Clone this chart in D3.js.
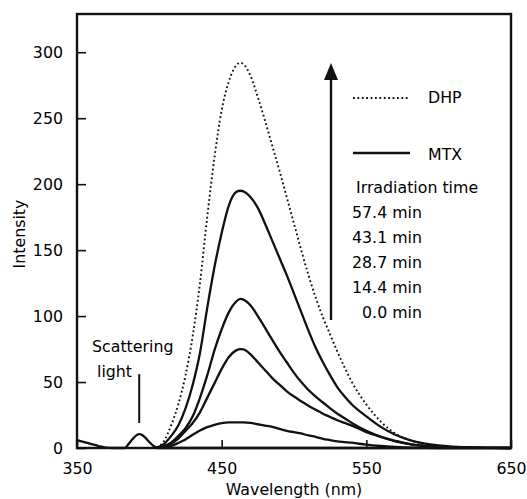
<!DOCTYPE html>
<html>
<head>
<meta charset="utf-8">
<script src="https://cdn.jsdelivr.net/npm/d3@7/dist/d3.min.js"></script>
<style>
body { margin: 0; background: #fff; }
svg text { font-family: "DejaVu Sans", sans-serif; font-size: 15.8px; fill: #000; }
</style>
</head>
<body>
<svg id="vis" width="527" height="499"></svg>
<script>
// wavelengths (nm) of the emission readings
var wl = [405, 410, 415, 420, 425, 430, 435, 440, 445, 450, 455, 460, 463, 465, 470, 475, 480, 485, 490, 495,
          500, 505, 510, 515, 520, 525, 530, 535, 540, 550, 560, 570, 580, 590, 600, 620, 650];

// DHP reference spectrum (dotted)
var dhp = [0.5, 5, 17, 33, 55, 85, 125, 175, 220, 256, 278, 290, 292, 291, 282, 266, 248, 229, 210, 190,
           170, 150, 131, 114, 99, 86, 73, 61, 50, 33, 20, 11, 6, 3, 1.5, 0.3, 0];

// MTX spectra after irradiation
var mtx574 = [0.3, 3, 9, 17, 30, 48, 72, 106, 137, 163, 184, 194, 195, 194.5, 190, 182, 170, 157, 144, 131,
              117, 103, 89, 76, 65, 55, 46, 39, 33, 24, 16, 10, 6, 3.5, 2, 0.5, 0];
var mtx431 = [0.2, 1.5, 4, 9, 15, 24, 38, 55, 74, 90, 103, 111, 113, 112.5, 108, 100, 91, 82, 73, 65,
              57, 50, 44, 39, 34.5, 30, 26, 22.5, 19, 13, 8.5, 5, 3, 1.5, 0.8, 0.2, 0];
var mtx287 = [0.2, 1, 3, 7, 13, 19, 27, 38, 49, 60, 69, 74, 75, 74.8, 71, 65, 59, 53, 48, 43,
              39, 35.5, 32, 29, 26, 23.5, 21, 19, 17, 12, 8.5, 5.5, 3, 1.8, 1, 0.2, 0];
var mtx144 = [0.1, 0.5, 1.5, 3.8, 6.5, 10, 13.2, 15.8, 17.6, 18.8, 19.4, 19.5, 19.5, 19.5, 19, 18, 17, 16, 14.5, 13,
              12, 11, 9.5, 8.5, 7, 6, 5, 4.5, 4, 2.5, 1.5, 0.8, 0.3, 0.1, 0, 0, 0];
var mtx000 = [0, 0, 0, 0, 0, 0, 0, 0, 0, 0, 0, 0, 0, 0, 0, 0, 0, 0, 0, 0,
              0, 0, 0, 0, 0, 0, 0, 0, 0, 0, 0, 0, 0, 0, 0, 0, 0];

// scattering light region shared by all runs
var scatterWl = [350, 355, 360, 365, 370, 375, 380, 383, 386, 389, 391, 393, 395, 397, 400, 403, 405];
var scatterI  = [6, 4.5, 3, 1.5, 0.3, 0, 0, 0, 3.5, 7.5, 9.6, 10.5, 9.8, 8, 4.5, 1.5, 0.3];

var times = ['57.4 min', '43.1 min', '28.7 min', '14.4 min', '0.0 min'];
var xTicks = [350, 450, 550, 650];
var yTicks = [0, 50, 100, 150, 200, 250, 300];

var svg = d3.select('#vis');
// plot box (window.top is reserved, so use own names)
var pL = 77, pR = 511, pT = 14, pB = 448;

var x = d3.scaleLinear().domain([350, 650]).range([pL, pR]);
var y = d3.scaleLinear().domain([0, 329]).range([pB, pT]);

var line = d3.line()
    .x(function(d) { return x(d[0]); })
    .y(function(d) { return y(d[1]); })
    .curve(d3.curveMonotoneX);

function pairs(xs, ys) {
    return xs.map(function(v, i) { return [v, ys[i]]; });
}

// axes, ticks pointing inward
svg.append('g')
    .attr('transform', 'translate(0,' + pB + ')')
    .call(d3.axisBottom(x).tickValues(xTicks).tickSize(-8).tickPadding(15))
    .call(function(g) { g.select('.domain').remove(); });

svg.append('g')
    .attr('transform', 'translate(' + pL + ',0)')
    .call(d3.axisLeft(y).tickValues(yTicks).tickSize(-9).tickPadding(14))
    .call(function(g) { g.select('.domain').remove(); });

svg.selectAll('.tick line').attr('stroke', '#111').attr('stroke-width', 1.6);
svg.selectAll('.tick text').attr('font-family', null).attr('font-size', null).attr('fill', null);

// curves
var mtx = [mtx574, mtx431, mtx287, mtx144, mtx000];
svg.selectAll('path.mtx')
    .data(mtx)
    .enter().append('path')
    .attr('class', 'mtx')
    .attr('d', function(d) { return line(pairs(wl, d)); })
    .attr('fill', 'none')
    .attr('stroke', '#111')
    .attr('stroke-width', 2.3);

svg.append('path')
    .attr('d', line(pairs(scatterWl, scatterI)))
    .attr('fill', 'none')
    .attr('stroke', '#111')
    .attr('stroke-width', 2.3);

svg.append('path')
    .attr('d', line(pairs(wl, dhp)))
    .attr('fill', 'none')
    .attr('stroke', '#111')
    .attr('stroke-width', 1.9)
    .attr('stroke-dasharray', '1.8,2.6');

// frame
svg.append('rect')
    .attr('x', pL).attr('y', pT)
    .attr('width', pR - pL).attr('height', pB - pT)
    .attr('fill', 'none').attr('stroke', '#111').attr('stroke-width', 2.4);

// axis titles
svg.append('text')
    .attr('x', (pL + pR) / 2).attr('y', 495)
    .attr('text-anchor', 'middle')
    .text('Wavelength (nm)');

svg.append('text')
    .attr('transform', 'translate(25,234) rotate(-90)')
    .attr('text-anchor', 'middle')
    .text('Intensity');

// scattering light note
svg.append('text').attr('x', 92).attr('y', 352).text('Scattering');
svg.append('text').attr('x', 97).attr('y', 377).text('light');
svg.append('line')
    .attr('x1', x(393)).attr('x2', x(393))
    .attr('y1', y(56)).attr('y2', y(19))
    .attr('stroke', '#111').attr('stroke-width', 2);

// legend: irradiation arrow
svg.append('line')
    .attr('x1', 331).attr('x2', 331).attr('y1', 320).attr('y2', 76)
    .attr('stroke', '#111').attr('stroke-width', 2.4);
svg.append('path')
    .attr('d', 'M331,63 L338,80 L324,80 Z')
    .attr('fill', '#111');

svg.append('line')
    .attr('x1', 353).attr('x2', 410).attr('y1', 98).attr('y2', 98)
    .attr('stroke', '#111').attr('stroke-width', 1.9)
    .attr('stroke-dasharray', '1.8,2.6');
svg.append('text').attr('x', 428).attr('y', 103).text('DHP');

svg.append('line')
    .attr('x1', 353).attr('x2', 410).attr('y1', 153).attr('y2', 153)
    .attr('stroke', '#111').attr('stroke-width', 2.3);
svg.append('text').attr('x', 428).attr('y', 160).text('MTX');

svg.append('text').attr('x', 356).attr('y', 193).text('Irradiation time');

svg.selectAll('text.time')
    .data(times)
    .enter().append('text')
    .attr('class', 'time')
    .attr('x', 422)
    .attr('y', function(d, i) { return 218 + i * 25; })
    .attr('text-anchor', 'end')
    .text(function(d) { return d; });
</script>
</body>
</html>
